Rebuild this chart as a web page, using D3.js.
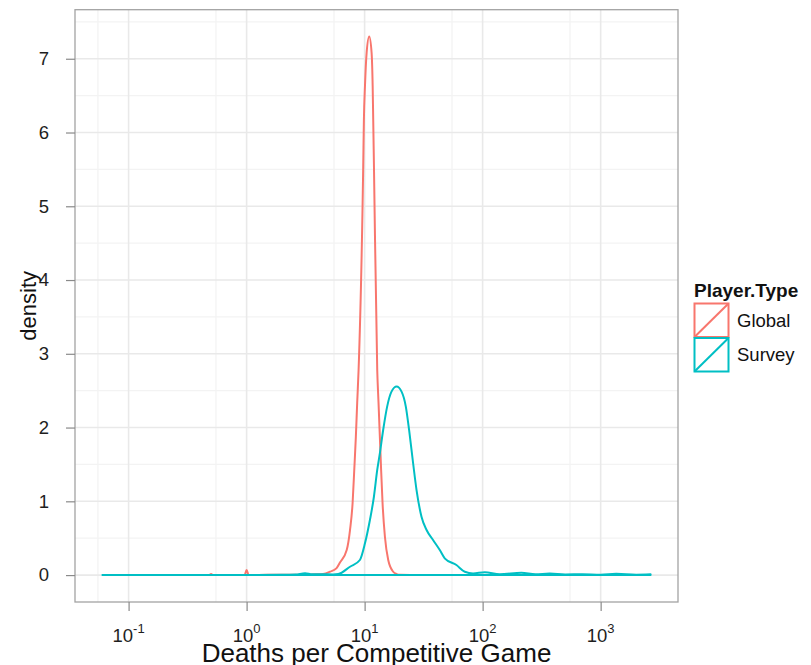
<!DOCTYPE html>
<html>
<head>
<meta charset="utf-8">
<script src="https://cdn.jsdelivr.net/npm/d3@7"></script>
<style>
  html, body { margin: 0; padding: 0; background: #fff; }
  svg { display: block; font-family: "Liberation Sans", Arial, Helvetica, sans-serif; }
</style>
</head>
<body>
<svg id="chart" width="811" height="665"></svg>
<script>
// ---------------- data ----------------
const seriesNames = ["Global", "Survey"];
const seriesColors = ["#F8766D", "#00BFC4"];

// Global: deaths per game (x) and density
const globalX = [0.08, 0.2, 0.45, 0.48, 0.5, 0.52, 0.9, 0.962, 1.0, 1.04, 1.5, 2.5, 3.2, 3.9, 4.44, 5.08, 5.79, 6.18, 7.05, 7.52, 7.91, 8.17, 8.43, 8.65, 8.89, 9.73, 9.86, 10.07, 10.40, 10.94, 11.46, 11.70, 11.83, 12.00, 12.79, 13.12, 13.46, 13.80, 14.19, 14.86, 15.85, 17.46, 18.66, 20, 30, 1500];
const globalDensity = [0, 0, 0, 0, 0.015, 0, 0, 0, 0.07, 0, 0.003, 0.004, 0.006, 0.01, 0.014, 0.045, 0.095, 0.17, 0.339, 0.611, 0.977, 1.425, 1.877, 2.334, 2.78, 5.54, 6.17, 6.63, 7.08, 7.30, 7.08, 6.63, 6.17, 5.54, 2.78, 2.334, 1.877, 1.425, 0.977, 0.52, 0.204, 0.045, 0.014, 0.003, 0, 0];

// Survey: deaths per game (x) and density
const surveyX = [0.06, 0.3, 1.0, 2.0, 2.6, 3.13, 3.6, 4.5, 5.4, 5.98, 7.52, 9.12, 10.07, 11.09, 11.99, 12.79, 13.46, 14.36, 15.52, 16.90, 18.66, 20.56, 22.34, 23.82, 25.76, 27.54, 30.34, 33.50, 38.02, 43.35, 47.75, 59.98, 70.63, 82.99, 104.2, 139.6, 213, 280, 370, 500, 700, 1000, 1355, 2000, 2650];
const surveyDensity = [0, 0, 0.002, 0.004, 0.008, 0.025, 0.01, 0.012, 0.008, 0.014, 0.113, 0.204, 0.43, 0.746, 1.062, 1.425, 1.651, 1.967, 2.284, 2.487, 2.555, 2.487, 2.284, 1.967, 1.516, 1.153, 0.791, 0.611, 0.475, 0.339, 0.227, 0.136, 0.045, 0.023, 0.037, 0.012, 0.03, 0.01, 0.02, 0.008, 0.012, 0.006, 0.018, 0.006, 0.01];

// axis breaks
const xTickExponents = [-1, 0, 1, 2, 3];
const xMinorBreaks = [0.055, 0.55, 5.5, 55, 550];
const yTicks = [0, 1, 2, 3, 4, 5, 6, 7];
const yMinorBreaks = [0.5, 1.5, 2.5, 3.5, 4.5, 5.5, 6.5, 7.5];

const xTitle = "Deaths per Competitive Game";
const yTitle = "density";
const legendTitle = "Player.Type";

// ---------------- layout ----------------
const panel = { left: 75, right: 678, top: 9.7, bottom: 602 };
const svg = d3.select("#chart");

const allX = globalX.concat(surveyX);
const lx = d3.extent(allX).map(Math.log10);
const ex = (lx[1] - lx[0]) * 0.05;
const x = d3.scaleLog()
  .domain([Math.pow(10, lx[0] - ex), Math.pow(10, lx[1] + ex)])
  .range([panel.left, panel.right]);

const ymax = d3.max(globalDensity.concat(surveyDensity));
const y = d3.scaleLinear()
  .domain([-0.05 * ymax, 1.05 * ymax])
  .range([panel.bottom, panel.top]);

// panel background
svg.append("rect")
  .attr("x", panel.left).attr("y", panel.top)
  .attr("width", panel.right - panel.left).attr("height", panel.bottom - panel.top)
  .attr("fill", "#fff");

const grid = svg.append("g");
// minor grid
grid.selectAll("line.xmin").data(xMinorBreaks).enter().append("line")
  .attr("x1", d => x(d)).attr("x2", d => x(d))
  .attr("y1", panel.top).attr("y2", panel.bottom)
  .attr("stroke", "#f3f3f3").attr("stroke-width", 1.3);
grid.selectAll("line.ymin").data(yMinorBreaks).enter().append("line")
  .attr("x1", panel.left).attr("x2", panel.right)
  .attr("y1", d => y(d)).attr("y2", d => y(d))
  .attr("stroke", "#f3f3f3").attr("stroke-width", 1.3);
// major grid
grid.selectAll("line.xmaj").data(xTickExponents).enter().append("line")
  .attr("x1", d => x(Math.pow(10, d))).attr("x2", d => x(Math.pow(10, d)))
  .attr("y1", panel.top).attr("y2", panel.bottom)
  .attr("stroke", "#e9e9e9").attr("stroke-width", 1.6);
grid.selectAll("line.ymaj").data(yTicks).enter().append("line")
  .attr("x1", panel.left).attr("x2", panel.right)
  .attr("y1", d => y(d)).attr("y2", d => y(d))
  .attr("stroke", "#e9e9e9").attr("stroke-width", 1.6);

// density outlines (area polygons, no fill)
const area = d3.area()
  .x(d => x(d[0]))
  .y0(y(0))
  .y1(d => y(d[1]))
  .curve(d3.curveMonotoneX);

const seriesData = [
  globalX.map((v, i) => [v, globalDensity[i]]),
  surveyX.map((v, i) => [v, surveyDensity[i]])
];

svg.append("defs").append("clipPath").attr("id", "clip")
  .append("rect").attr("x", panel.left).attr("y", panel.top)
  .attr("width", panel.right - panel.left).attr("height", panel.bottom - panel.top);

const plot = svg.append("g").attr("clip-path", "url(#clip)");
seriesData.forEach((s, i) => {
  plot.append("path")
    .attr("d", area(s) + "Z")
    .attr("fill", "none")
    .attr("stroke", seriesColors[i])
    .attr("stroke-width", 2)
    .attr("stroke-linejoin", "round");
});

// panel border
svg.append("rect")
  .attr("x", panel.left).attr("y", panel.top)
  .attr("width", panel.right - panel.left).attr("height", panel.bottom - panel.top)
  .attr("fill", "none").attr("stroke", "#a3a3a3").attr("stroke-width", 1.3);

// y axis
const yAxis = d3.axisLeft(y).tickValues(yTicks).tickSize(9).tickPadding(17).tickFormat(d3.format("d"));
const gy = svg.append("g").attr("transform", `translate(${panel.left},0)`).call(yAxis);
gy.attr("font-size", 18.5);
gy.select(".domain").remove();
gy.selectAll(".tick line").attr("stroke", "#8a8a8a").attr("stroke-width", 1.2);
gy.selectAll(".tick text").attr("font-size", 18.5).attr("fill", "#1e1e1e")
  .attr("font-family", "'Liberation Sans', Arial, sans-serif");

// x axis
const xAxis = d3.axisBottom(x).tickValues(xTickExponents.map(e => Math.pow(10, e))).tickSize(9).tickFormat("");
const gx = svg.append("g").attr("transform", `translate(0,${panel.bottom})`).call(xAxis);
gx.select(".domain").remove();
gx.selectAll(".tick line").attr("stroke", "#8a8a8a").attr("stroke-width", 1.2);

const xl = svg.append("g");
xTickExponents.forEach(e => {
  const t = xl.append("text")
    .attr("x", x(Math.pow(10, e)))
    .attr("y", 642)
    .attr("text-anchor", "middle")
    .attr("fill", "#1e1e1e")
    .attr("font-size", 18.5);
  t.append("tspan").text("10");
  t.append("tspan").attr("dy", -9).attr("font-size", 13).text(String(e));
});

// axis titles
svg.append("text")
  .attr("x", (panel.left + panel.right) / 2)
  .attr("y", 662)
  .attr("text-anchor", "middle")
  .attr("font-size", 26)
  .attr("fill", "#111")
  .text(xTitle);

svg.append("text")
  .attr("transform", `translate(36,${(panel.top + panel.bottom) / 2}) rotate(-90)`)
  .attr("text-anchor", "middle")
  .attr("font-size", 22)
  .attr("fill", "#111")
  .text(yTitle);

// legend
const lg = svg.append("g").attr("transform", "translate(694,297)");
lg.append("text").attr("x", 0).attr("y", 0)
  .attr("font-size", 19).attr("font-weight", "bold").attr("fill", "#111")
  .text(legendTitle);
const keyW = 35, keyH = 34.5;
seriesNames.forEach((name, i) => {
  const g = lg.append("g").attr("transform", `translate(0,${6 + i * keyH})`);
  g.append("rect").attr("x", 0.5).attr("y", 0.5).attr("width", keyW - 1).attr("height", keyH - 1)
    .attr("fill", "#fff").attr("stroke", seriesColors[i]).attr("stroke-width", 2);
  g.append("line").attr("x1", 0.5).attr("y1", keyH - 0.5).attr("x2", keyW - 0.5).attr("y2", 0.5)
    .attr("stroke", seriesColors[i]).attr("stroke-width", 2);
  g.append("text").attr("x", keyW + 8).attr("y", keyH / 2 + 6.5)
    .attr("font-size", 18.5).attr("fill", "#111").text(name);
});
</script>
</body>
</html>
